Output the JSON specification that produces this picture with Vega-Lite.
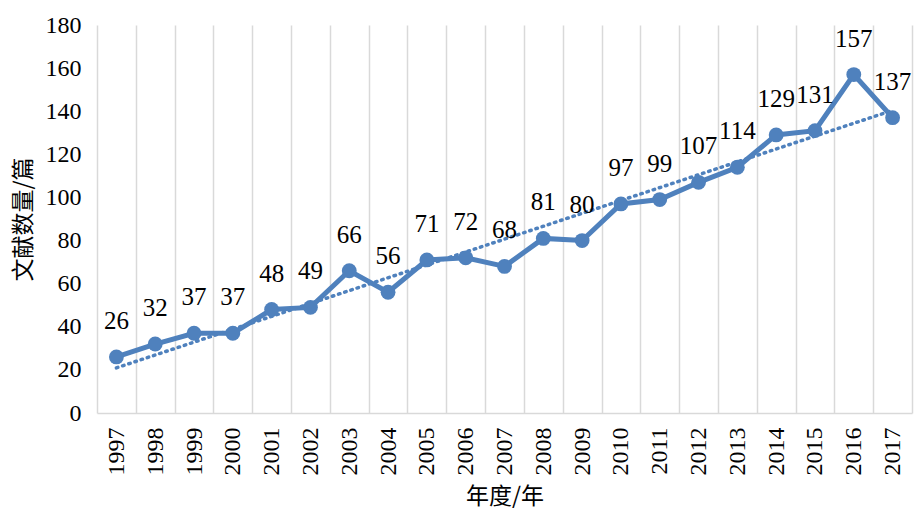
{
  "$schema": "https://vega.github.io/schema/vega-lite/v6.json",
  "width": 815,
  "height": 388,
  "autosize": {"type": "none"},
  "padding": {"left": 97, "top": 25, "right": 3, "bottom": 105},
  "background": "white",
  "config": {"view": {"stroke": null}},
  "data": {"values": [
    {"year": 1997, "count": 26}, {"year": 1998, "count": 32}, {"year": 1999, "count": 37},
    {"year": 2000, "count": 37}, {"year": 2001, "count": 48}, {"year": 2002, "count": 49},
    {"year": 2003, "count": 66}, {"year": 2004, "count": 56}, {"year": 2005, "count": 71},
    {"year": 2006, "count": 72}, {"year": 2007, "count": 68}, {"year": 2008, "count": 81},
    {"year": 2009, "count": 80}, {"year": 2010, "count": 97}, {"year": 2011, "count": 99},
    {"year": 2012, "count": 107}, {"year": 2013, "count": 114}, {"year": 2014, "count": 129},
    {"year": 2015, "count": 131}, {"year": 2016, "count": 157}, {"year": 2017, "count": 137}
  ]},
  "encoding": {
    "x": {
      "field": "year", "type": "ordinal", "bandPosition": 0.5,
      "scale": {"type": "band", "paddingInner": 0, "paddingOuter": 0, "domain": [1997,1998,1999,2000,2001,2002,2003,2004,2005,2006,2007,2008,2009,2010,2011,2012,2013,2014,2015,2016,2017]},
      "axis": {
        "title": "年度/年", "titleFont": "Noto Sans CJK SC", "titleFontSize": 23, "titleFontWeight": "normal", "titleColor": "#000000", "titlePadding": 10,
        "labelAngle": -90, "labelFont": "Liberation Serif", "labelFontSize": 24, "labelColor": "#000000", "labelPadding": 14,
        "ticks": false, "tickBand": "extent", "grid": true, "gridColor": "#d9d9d9", "gridWidth": 1.5,
        "domainColor": "#d9d9d9", "domainWidth": 1.5
      }
    },
    "y": {
      "field": "count", "type": "quantitative",
      "scale": {"domain": [0, 180], "nice": false},
      "axis": {
        "title": "文献数量/篇", "titleFont": "Noto Sans CJK SC", "titleFontSize": 23, "titleFontWeight": "normal", "titleColor": "#000000", "titlePadding": 10,
        "values": [0,20,40,60,80,100,120,140,160,180],
        "labelFont": "Liberation Serif", "labelFontSize": 24, "labelColor": "#000000", "labelPadding": 16,
        "ticks": false, "domain": false, "grid": false
      }
    }
  },
  "layer": [
    {
      "transform": [{"regression": "count", "on": "year", "method": "linear"}],
      "mark": {"type": "line", "color": "#4F81BD", "strokeWidth": 3.5, "strokeDash": [1.5, 5], "strokeCap": "round"}
    },
    {
      "mark": {"type": "line", "color": "#4F81BD", "strokeWidth": 5, "point": {"filled": true, "size": 220, "color": "#4F81BD"}}
    },
    {
      "mark": {"type": "text", "font": "Liberation Serif", "fontSize": 25, "color": "#000000", "dy": -28, "baseline": "alphabetic"},
      "encoding": {"text": {"field": "count", "type": "quantitative"}}
    }
  ]
}
